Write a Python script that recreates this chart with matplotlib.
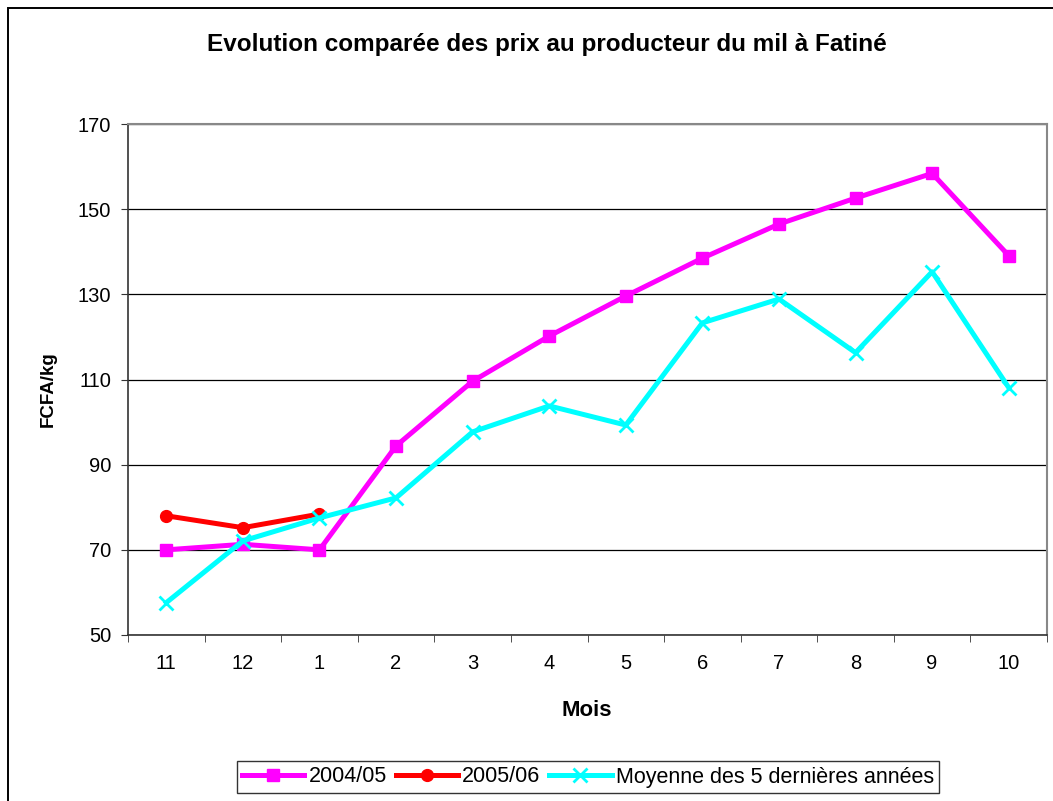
import numpy as np
import matplotlib
matplotlib.use("Agg")
from matplotlib import pyplot as plt
from matplotlib.patches import Rectangle

plt.rcParams['font.family'] = ['Liberation Sans', 'DejaVu Sans']

mois = ['11', '12', '1', '2', '3', '4', '5', '6', '7', '8', '9', '10']
prix_2004 = [70, 71.3, 70, 94.4, 109.6, 120.2, 129.6, 138.5, 146.5, 152.6, 158.4, 139.1]
prix_2005 = [78, 75.2, 78.4]
moyenne_5ans = [57.6, 72.1, 77.5, 82.2, 97.7, 103.8, 99.3, 123.3, 128.9, 116.3, 135.3, 108.1]

W, H = 1053, 801
fig = plt.figure(figsize=(W / 100, H / 100), dpi=100)

# outer chart frame (cut off at right and bottom like the original)
fig.patches.append(Rectangle((8 / W, -0.1), 1.2, 1 - 8 / H + 0.1, transform=fig.transFigure,
                             fill=False, edgecolor='black', lw=1.4, zorder=0))

ax = fig.add_axes([128 / W, (H - 635) / H, (1047 - 128) / W, (635 - 124) / H])

x = np.arange(len(mois))
ax.plot(x, prix_2004, color='#ff00ff', lw=3.6, marker='s', ms=8.5, label='2004/05', zorder=3)
ax.plot(x[:len(prix_2005)], prix_2005, color='#ff0000', lw=3.6, marker='o', ms=8.5, label='2005/06', zorder=3)
ax.plot(x, moyenne_5ans, color='#00ffff', lw=3.6, marker='x', ms=10, mew=2,
        label='Moyenne des 5 dernières années', zorder=4)

ax.set_xlim(-0.5, len(mois) - 0.5)
ax.set_ylim(50, 170)
ax.set_yticks(np.arange(50, 171, 20))
ax.set_xticks(x)
ax.set_xticklabels(mois)
ax.set_xticks(np.arange(-0.5, len(mois), 1), minor=True)
ax.tick_params(axis='x', which='major', length=0, pad=14, labelsize=14.5)
ax.tick_params(axis='x', which='minor', length=5, direction='out', color='#333333')
ax.tick_params(axis='y', length=5, direction='out', labelsize=14.5, color='#333333', pad=7)
ax.yaxis.grid(True, color='black', lw=0.9)
ax.set_axisbelow(True)

for s in ['left', 'bottom']:
    ax.spines[s].set_color('#333333')
    ax.spines[s].set_linewidth(1.2)
for s in ['top', 'right']:
    ax.spines[s].set_color('#888888')
    ax.spines[s].set_linewidth(1.5)

fig.text(587 / W, 1 - 710 / H, 'Mois', ha='center', va='center', fontsize=16, fontweight='bold')
fig.text(48 / W, 1 - 389 / H, 'FCFA/kg', ha='center', va='center', rotation=90,
         fontsize=13.5, fontweight='bold')
fig.text(547 / W, 1 - 45 / H, 'Evolution comparée des prix au producteur du mil à Fatiné',
         ha='center', va='center', fontsize=17.5, fontweight='bold')

leg = fig.legend(loc='center', bbox_to_anchor=(588 / W, 1 - 777 / H), ncol=3, fontsize=15.5,
                 frameon=True, fancybox=False, edgecolor='black', handlelength=2.9,
                 handletextpad=0.2, columnspacing=0.4, borderpad=0.25)
leg.get_frame().set_linewidth(1)

fig.savefig('out.png', dpi=100)
